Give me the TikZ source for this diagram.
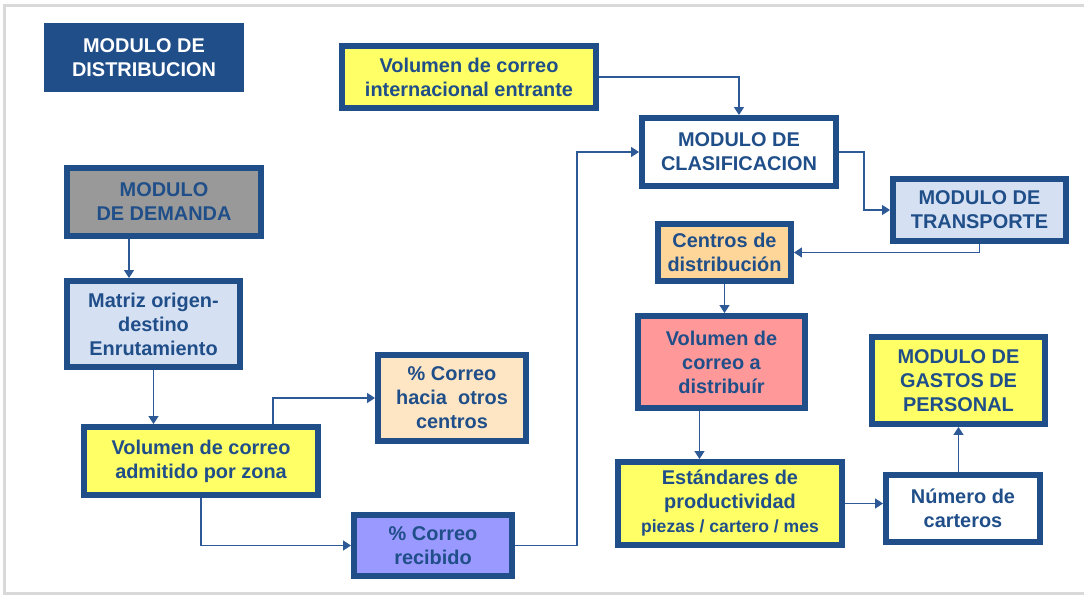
\documentclass[tikz,border=0pt]{standalone}
\usepackage{fontspec}
\setmainfont{Liberation Sans}
\usetikzlibrary{arrows.meta,calc}
\definecolor{darkBlue}{RGB}{31,78,137}
\definecolor{lineBlue}{RGB}{45,90,150}
\definecolor{fillYellow}{RGB}{255,255,102}
\definecolor{fillLightBlue}{RGB}{214,224,243}
\definecolor{fillGray}{RGB}{153,153,153}
\definecolor{fillOrange}{RGB}{255,214,153}
\definecolor{fillPeach}{RGB}{254,230,196}
\definecolor{fillPink}{RGB}{255,153,153}
\definecolor{fillViolet}{RGB}{153,153,255}
\definecolor{frameGray}{RGB}{217,217,217}
\tikzset{
  modbox/.style={draw=darkBlue, line width=5.5pt, text=darkBlue, align=center, inner sep=0pt,
    font=\bfseries\fontsize{17}{20.5}\selectfont},
  link/.style={draw=lineBlue, line width=1.2pt, -{Triangle[length=0.24cm,width=0.3cm]}}
}
% name, x1, y1, x2, y2, fill, text
\newcommand\modBox[7]{%
  \node[modbox, #6, minimum width={(#4-#2-6.5)*0.03cm}, minimum height={(#5-#3-6.5)*0.03cm}]
    (#1) at ({(#2+#4)/2},{(#3+#5)/2}) {#7};}

\begin{document}
\begin{tikzpicture}[x=0.03cm, y=-0.03cm]
  \useasboundingbox (0,0) rectangle (1084,596);
  \draw[frameGray, line width=0.09cm] (1084,6) -- (4,6) -- (4,593) -- (1084,593);
  \node[fill=darkBlue, text=white, align=center, inner sep=0pt, minimum width=6cm, minimum height=2.07cm,
    font=\bfseries\fontsize{17}{20.5}\selectfont] (dist) at (144,57.5) {MODULO DE\\DISTRIBUCION};
  \modBox{intl}{339}{43}{599}{111}{fill=fillYellow}{Volumen de correo\\internacional entrante}
  \modBox{clasif}{639}{115}{839}{189}{fill=white}{MODULO DE\\CLASIFICACION}
  \modBox{transp}{890}{176}{1069}{244}{fill=fillLightBlue}{MODULO DE\\TRANSPORTE}
  \modBox{demanda}{64}{165}{264}{239}{fill=fillGray}{MODULO\\DE DEMANDA}
  \modBox{matriz}{64}{278}{243}{370}{fill=fillLightBlue}{Matriz origen-\\destino\\Enrutamiento}
  \modBox{centros}{655}{221}{794}{284}{fill=fillOrange}{Centros de\\distribución}
  \modBox{vdist}{635}{313}{808}{411}{fill=fillPink}{Volumen de\\correo a\\distribuír}
  \modBox{hacia}{375}{352}{529}{444}{fill=fillPeach}{\% Correo\\hacia\ \ otros\\centros}
  \modBox{admit}{81}{424}{321}{498}{fill=fillYellow}{Volumen de correo\\admitido por zona}
  \modBox{recib}{351}{512}{515}{579}{fill=fillViolet}{\% Correo\\recibido}
  \modBox{estand}{615}{459}{845}{548}{fill=fillYellow}{Estándares de\\productividad\\{\fontsize{15}{18}\selectfont piezas / cartero / mes}}
  \modBox{numero}{883}{472}{1043}{545}{fill=white}{Número de\\carteros}
  \modBox{gastos}{869}{334}{1048}{427}{fill=fillYellow}{MODULO DE\\GASTOS DE\\PERSONAL}

  \draw[link] (intl.east) -| (clasif.north);
  \draw[link] (recib.east) -- ++(62,0) |- (clasif.west);
  \draw[link] (clasif.east) -- ++(25,0) |- (transp.west);
  \draw[link] (transp.south) |- (centros.east);
  \draw[link] (centros.south) -- (centros.south |- vdist.north);
  \draw[link] ($(vdist.south)+(-22,0)$) coordinate (vd) -- (vd |- estand.north);
  \draw[link] (estand.east) -- (estand.east -| numero.west);
  \draw[link] (gastos.south |- numero.north) -- (gastos.south);
  \draw[link] ($(demanda.south)+(-35,0)$) coordinate (dm) -- (dm |- matriz.north);
  \draw[link] (matriz.south) -- (matriz.south |- admit.north);
  \draw[link] ($(admit.north)+(72,0)$) |- (hacia.west);
  \draw[link] (admit.south) |- (recib.west);
\end{tikzpicture}
\end{document}
